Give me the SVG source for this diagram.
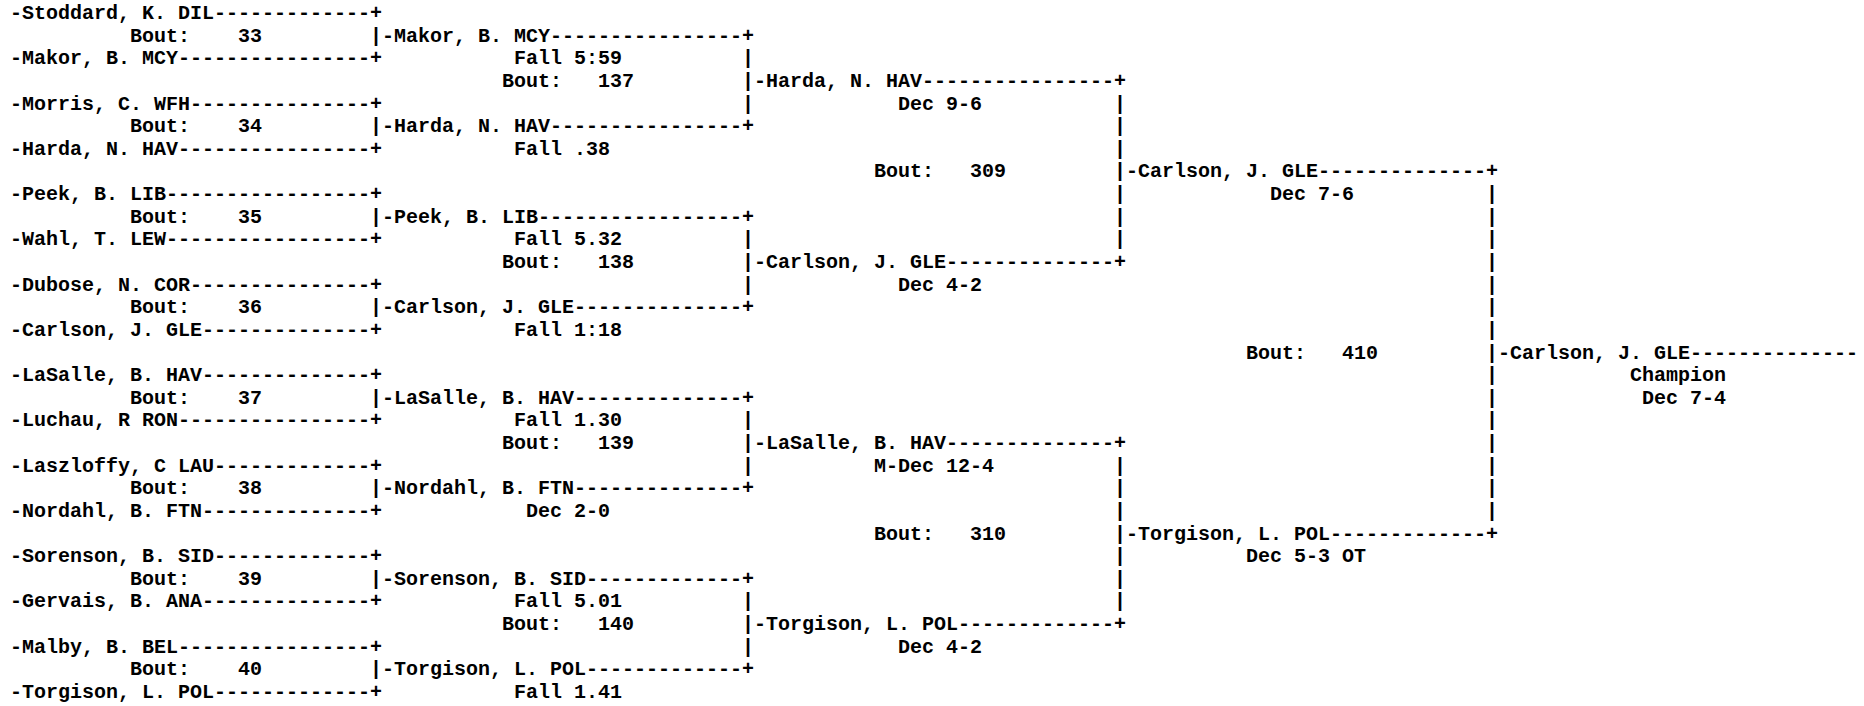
<svg xmlns="http://www.w3.org/2000/svg" width="1864" height="706" viewBox="0 0 1864 706" xml:space="preserve">
<style>
text { font-family: "Liberation Mono", "Courier New", monospace; font-size: 20px; font-weight: bold; fill: #000; white-space: pre; }
</style>
<rect width="1864" height="706" fill="#fff"/>
<g id="round1">
<g id="e-stoddard"><text x="10" y="19.0">-Stoddard, K. DIL-------------+</text></g>
<g id="e-makor"><text x="10" y="64.3">-Makor, B. MCY----------------+</text></g>
<g id="e-morris"><text x="10" y="109.5">-Morris, C. WFH---------------+</text></g>
<g id="e-harda"><text x="10" y="154.8">-Harda, N. HAV----------------+</text></g>
<g id="e-peek"><text x="10" y="200.0">-Peek, B. LIB-----------------+</text></g>
<g id="e-wahl"><text x="10" y="245.3">-Wahl, T. LEW-----------------+</text></g>
<g id="e-dubose"><text x="10" y="290.6">-Dubose, N. COR---------------+</text></g>
<g id="e-carlson"><text x="10" y="335.8">-Carlson, J. GLE--------------+</text></g>
<g id="e-lasalle"><text x="10" y="381.1">-LaSalle, B. HAV--------------+</text></g>
<g id="e-luchau"><text x="10" y="426.3">-Luchau, R RON----------------+</text></g>
<g id="e-laszloffy"><text x="10" y="471.6">-Laszloffy, C LAU-------------+</text></g>
<g id="e-nordahl"><text x="10" y="516.9">-Nordahl, B. FTN--------------+</text></g>
<g id="e-sorenson"><text x="10" y="562.1">-Sorenson, B. SID-------------+</text></g>
<g id="e-gervais"><text x="10" y="607.4">-Gervais, B. ANA--------------+</text></g>
<g id="e-malby"><text x="10" y="652.6">-Malby, B. BEL----------------+</text></g>
<g id="e-torgison"><text x="10" y="697.9">-Torgison, L. POL-------------+</text></g>
</g>
<g id="round2">
<g id="bout33"><text x="130" y="41.6">Bout:    33</text><text x="382" y="41.6">-Makor, B. MCY----------------+</text><text x="514" y="64.3">Fall 5:59</text></g>
<g id="bout34"><text x="130" y="132.2">Bout:    34</text><text x="382" y="132.2">-Harda, N. HAV----------------+</text><text x="514" y="154.8">Fall .38</text></g>
<g id="bout35"><text x="130" y="222.7">Bout:    35</text><text x="382" y="222.7">-Peek, B. LIB-----------------+</text><text x="514" y="245.3">Fall 5.32</text></g>
<g id="bout36"><text x="130" y="313.2">Bout:    36</text><text x="382" y="313.2">-Carlson, J. GLE--------------+</text><text x="514" y="335.8">Fall 1:18</text></g>
<g id="bout37"><text x="130" y="403.7">Bout:    37</text><text x="382" y="403.7">-LaSalle, B. HAV--------------+</text><text x="514" y="426.3">Fall 1.30</text></g>
<g id="bout38"><text x="130" y="494.2">Bout:    38</text><text x="382" y="494.2">-Nordahl, B. FTN--------------+</text><text x="526" y="516.9">Dec 2-0</text></g>
<g id="bout39"><text x="130" y="584.8">Bout:    39</text><text x="382" y="584.8">-Sorenson, B. SID-------------+</text><text x="514" y="607.4">Fall 5.01</text></g>
<g id="bout40"><text x="130" y="675.3">Bout:    40</text><text x="382" y="675.3">-Torgison, L. POL-------------+</text><text x="514" y="697.9">Fall 1.41</text></g>
</g>
<g id="round3">
<g id="bout137"><text x="502" y="86.9">Bout:   137</text><text x="754" y="86.9">-Harda, N. HAV----------------+</text><text x="898" y="109.5">Dec 9-6</text></g>
<g id="bout138"><text x="502" y="267.9">Bout:   138</text><text x="754" y="267.9">-Carlson, J. GLE--------------+</text><text x="898" y="290.6">Dec 4-2</text></g>
<g id="bout139"><text x="502" y="449.0">Bout:   139</text><text x="754" y="449.0">-LaSalle, B. HAV--------------+</text><text x="874" y="471.6">M-Dec 12-4</text></g>
<g id="bout140"><text x="502" y="630.0">Bout:   140</text><text x="754" y="630.0">-Torgison, L. POL-------------+</text><text x="898" y="652.6">Dec 4-2</text></g>
</g>
<g id="round4">
<g id="bout309"><text x="874" y="177.4">Bout:   309</text><text x="1126" y="177.4">-Carlson, J. GLE--------------+</text><text x="1270" y="200.0">Dec 7-6</text></g>
<g id="bout310"><text x="874" y="539.5">Bout:   310</text><text x="1126" y="539.5">-Torgison, L. POL-------------+</text><text x="1246" y="562.1">Dec 5-3 OT</text></g>
</g>
<g id="final">
<g id="bout410"><text x="1246" y="358.5">Bout:   410</text><text x="1498" y="358.5">-Carlson, J. GLE--------------</text><text x="1630" y="381.1">Champion</text><text x="1642" y="403.7">Dec 7-4</text></g>
</g>
<g id="connectors">
<text x="370" y="41.6">|</text><text x="370" y="132.2">|</text><text x="370" y="222.7">|</text><text x="370" y="313.2">|</text>
<text x="370" y="403.7">|</text><text x="370" y="494.2">|</text><text x="370" y="584.8">|</text><text x="370" y="675.3">|</text>
<text x="742" y="64.3">|</text><text x="742" y="86.9">|</text><text x="742" y="109.5">|</text>
<text x="742" y="245.3">|</text><text x="742" y="267.9">|</text><text x="742" y="290.6">|</text>
<text x="742" y="426.3">|</text><text x="742" y="449.0">|</text><text x="742" y="471.6">|</text>
<text x="742" y="607.4">|</text><text x="742" y="630.0">|</text><text x="742" y="652.6">|</text>
<text x="1114" y="109.5">|</text><text x="1114" y="132.2">|</text><text x="1114" y="154.8">|</text><text x="1114" y="177.4">|</text><text x="1114" y="200.0">|</text><text x="1114" y="222.7">|</text><text x="1114" y="245.3">|</text>
<text x="1114" y="471.6">|</text><text x="1114" y="494.2">|</text><text x="1114" y="516.9">|</text><text x="1114" y="539.5">|</text><text x="1114" y="562.1">|</text><text x="1114" y="584.8">|</text><text x="1114" y="607.4">|</text>
<text x="1486" y="200.0">|</text><text x="1486" y="222.7">|</text><text x="1486" y="245.3">|</text><text x="1486" y="267.9">|</text><text x="1486" y="290.6">|</text>
<text x="1486" y="313.2">|</text><text x="1486" y="335.8">|</text><text x="1486" y="358.5">|</text><text x="1486" y="381.1">|</text><text x="1486" y="403.7">|</text>
<text x="1486" y="426.3">|</text><text x="1486" y="449.0">|</text><text x="1486" y="471.6">|</text><text x="1486" y="494.2">|</text><text x="1486" y="516.9">|</text>
</g>
</svg>
